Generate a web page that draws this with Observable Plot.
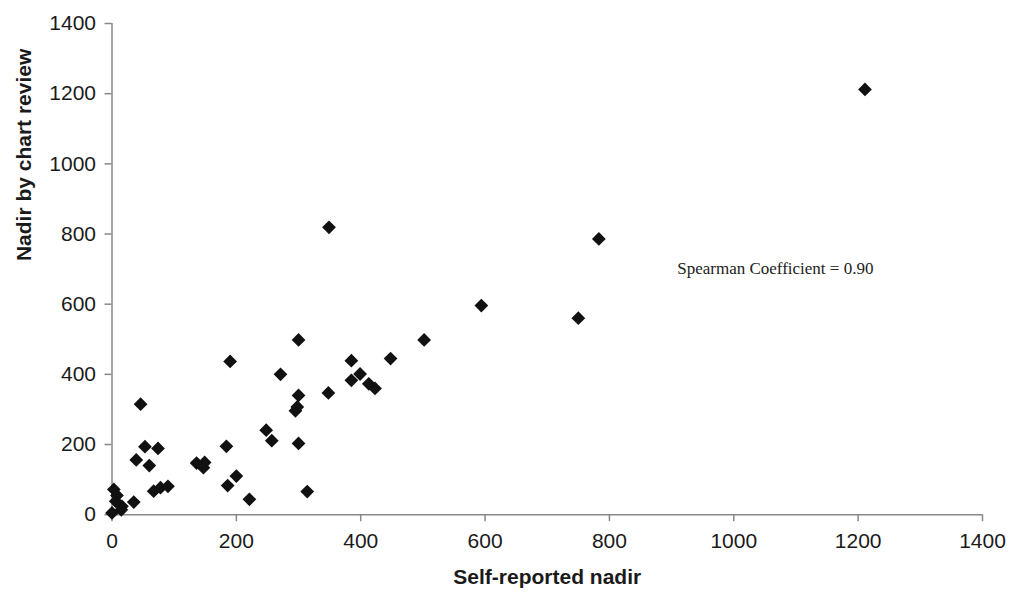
<!DOCTYPE html>
<html><head><meta charset="utf-8">
<script src="https://cdn.jsdelivr.net/npm/d3@7"></script>
<script src="https://cdn.jsdelivr.net/npm/@observablehq/plot@0.6"></script>
<style>body{margin:0;background:#fff;}</style>
</head><body><div id="chart"></div>
<script>
const selfReported = [1211,349,783,594,750,502,300,448,385,190,399,271,385,413,423,348,300,46,298,295,248,257,300,53,74,184,39,60,136,149,147,200,186,67,78,90,221,35,3,8,6,16,0,314,15];
const chartReview  = [1212,819,786,596,560,498,498,445,439,437,401,400,383,373,360,347,340,315,307,296,241,211,203,194,189,195,156,140,147,149,134,110,83,67,77,81,44,36,72,55,38,24,5,66,14];
const xTicks = [0,200,400,600,800,1000,1200,1400];
const yTicks = [0,200,400,600,800,1000,1200,1400];
const xLabel = "Self-reported nadir";
const yLabel = "Nadir by chart review";
const annotationText = ["Spearman Coefficient = 0.90"];
const annotationX = [909];
const annotationY = [701];

const points = selfReported.map((x, i) => ({x, y: chartReview[i]}));

const chart = Plot.plot({
  width: 1010, height: 596,
  marginLeft: 111.5, marginRight: 28, marginTop: 23, marginBottom: 81.8,
  style: {fontFamily: "'Liberation Sans', Arial, sans-serif", fontSize: "21px", color: "#1a1a1a", background: "#fff"},
  x: {domain: [0, 1400]},
  y: {domain: [0, 1400]},
  marks: [
    Plot.axisX({ticks: xTicks, tickSize: 7, tickPadding: 11, stroke: "#888", fill: "#1a1a1a", strokeWidth: 1.5, label: null, tickFormat: d => String(d)}),
    Plot.axisY({ticks: yTicks, tickSize: 7, tickPadding: 9, stroke: "#888", fill: "#1a1a1a", strokeWidth: 1.5, label: null, tickFormat: d => String(d)}),
    Plot.ruleX([0], {stroke: "#888", strokeWidth: 1.5}),
    Plot.ruleY([0], {stroke: "#888", strokeWidth: 1.5}),
    Plot.dot(points, {x: "x", y: "y", symbol: "diamond2", r: 6.2, fill: "#111", stroke: "none"}),
    Plot.text(annotationText, {x: annotationX, y: annotationY, text: d => d, textAnchor: "start", fontFamily: "'Liberation Serif', 'Times New Roman', serif", fontSize: 17, fill: "#222"}),
    Plot.text([xLabel], {frameAnchor: "bottom", dy: 69, text: d => d, fontWeight: "bold", fontSize: 21, fill: "#1a1a1a"}),
    Plot.text([yLabel], {frameAnchor: "left", dx: -87.5, dy: -8, rotate: -90, text: d => d, fontWeight: "bold", fontSize: 21, fill: "#1a1a1a"})
  ]
});
document.getElementById("chart").appendChild(chart);
</script>
</body></html>
